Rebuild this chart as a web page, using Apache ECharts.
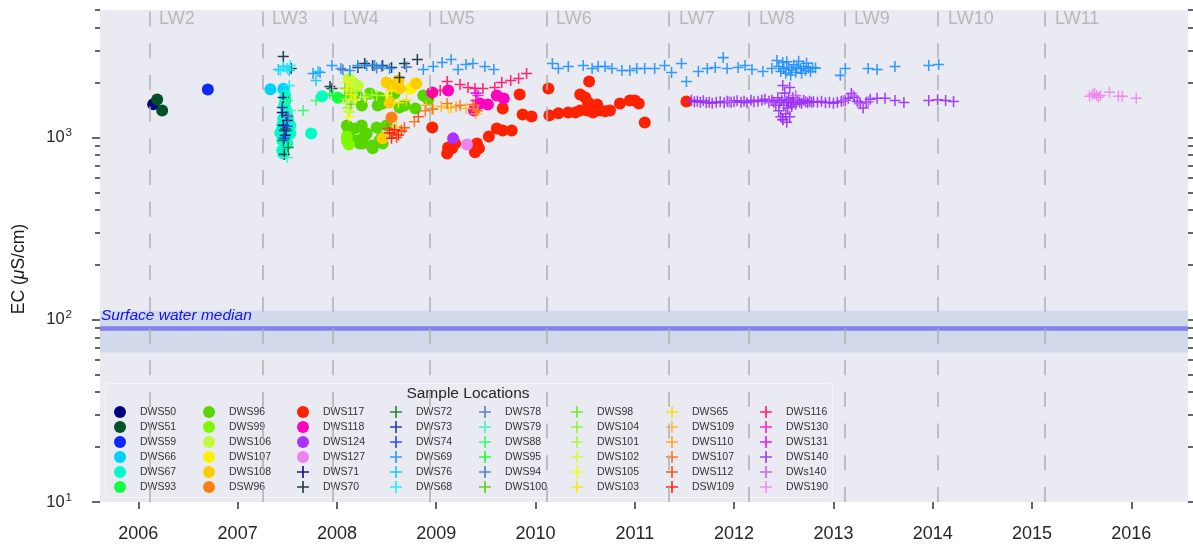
<!DOCTYPE html>
<html>
<head>
<meta charset="utf-8">
<script src="https://cdn.jsdelivr.net/npm/echarts@6/dist/echarts.min.js"></script>
<style>
  html, body { margin: 0; padding: 0; background: #fff; }
  #chart { width: 1193px; height: 544px; }
</style>
</head>
<body>
<div id="chart"></div>
<script>
// ---- axis ticks / annotations ----
var yearTicks = [2006, 2007, 2008, 2009, 2010, 2011, 2012, 2013, 2014, 2015, 2016];
var ecMajor = [10, 100, 1000];
var ecMinor = [20, 30, 40, 50, 60, 70, 80, 90, 200, 300, 400, 500, 600, 700, 800, 900, 2000, 3000, 4000, 5000];
var lwNames = ['LW2', 'LW3', 'LW4', 'LW5', 'LW6', 'LW7', 'LW8', 'LW9', 'LW10', 'LW11'];
var lwYears = [2006.108, 2007.246, 2007.961, 2008.928, 2010.106, 2011.344, 2012.150, 2013.107, 2014.053, 2015.131];
var surfaceMedian = 90;
var surfaceBand = [66, 112];

// ---- sample locations ----
var locNames = ['DWS50', 'DWS51', 'DWS59', 'DWS66', 'DWS67', 'DWS93',
  'DWS96', 'DWS99', 'DWS106', 'DWS107', 'DWS108', 'DSW96',
  'DWS117', 'DWS118', 'DWS124', 'DWS127', 'DWS71', 'DWS70',
  'DWS72', 'DWS73', 'DWS74', 'DWS69', 'DWS76', 'DWS68',
  'DWS78', 'DWS79', 'DWS88', 'DWS95', 'DWS94', 'DWS100',
  'DWS98', 'DWS104', 'DWS101', 'DWS102', 'DWS105', 'DWS103',
  'DWS65', 'DWS109', 'DWS110', 'DWS107\u200b', 'DWS112', 'DSW109',
  'DWS116', 'DWS130', 'DWS131', 'DWS140', 'DWs140', 'DWS190'];
var locColors = ['#000080', '#005028', '#0a28ff', '#00d0ff', '#00fcc8', '#10ff40',
  '#57d600', '#80f800', '#c2fa3a', '#fff000', '#ffcc00', '#ff8010',
  '#ff2200', '#ff00c0', '#aa33ff', '#ee82ee', '#000080', '#0d3040',
  '#1a7a28', '#1a30a0', '#1a3cff', '#1e90ff', '#10c8ff', '#10f0ff',
  '#4a7ac0', '#33f5c0', '#22ff66', '#11ff22', '#4a7ac0', '#55cc00',
  '#66ee11', '#8cf820', '#a8f830', '#d0ff30', '#f0ff00', '#ffe800',
  '#ffd800', '#ffb820', '#ffa010', '#ff7010', '#ff4810', '#ff1a00',
  '#ff1066', '#ff10c8', '#e010f0', '#9a30f8', '#c060f0', '#ee88ee'];
var circleCount = 16; // first 16 are dots, the rest crosses

// [decimal year, EC uS/cm]
var dws50 = [[2006.15, 1520]];
var dws51 = [[2006.19, 1615], [2006.24, 1405]];
var dws59 = [[2006.70, 1830]];
var dws66 = [[2007.33, 1840], [2007.46, 1850]];
var dws67 = [[2007.48, 1596], [2007.49, 1406], [2007.46, 1270], [2007.50, 1321], [2007.45, 1164],
  [2007.53, 1164], [2007.43, 1060], [2007.53, 1052], [2007.45, 963], [2007.50, 927], [2007.45, 849],
  [2007.46, 817], [2007.48, 1700], [2007.47, 1500], [2007.51, 1230], [2007.47, 1100], [2007.49, 990],
  [2007.74, 1050], [2007.85, 1680]];
var dws93 = [[2008.01, 1650]];
var dws96 = [[2008.25, 1496], [2008.33, 1742], [2008.41, 1496], [2008.43, 1656], [2008.46, 1535],
  [2008.58, 1742], [2008.63, 1459], [2008.68, 1496], [2008.79, 1442], [2008.87, 1698], [2008.18, 1766],
  [2008.10, 1164], [2008.11, 1135], [2008.13, 988], [2008.21, 963], [2008.23, 927], [2008.25, 1164],
  [2008.26, 927], [2008.28, 1026], [2008.30, 1052], [2008.35, 903], [2008.36, 871], [2008.40, 1135],
  [2008.43, 963], [2008.45, 1000], [2008.46, 927], [2008.50, 1164], [2008.18, 1119], [2008.92, 1620]];
var dws99 = [[2008.10, 963], [2008.12, 915], [2008.10, 1012]];
var dws106 = [[2008.16, 2000], [2008.12, 2105], [2008.15, 1698], [2008.21, 1927]];
var dws107 = [[2008.79, 1975], [2008.74, 1850]];
var dws108 = [[2008.50, 2000], [2008.62, 2050], [2008.53, 1556], [2008.63, 1854], [2008.80, 1975],
  [2008.46, 988], [2008.56, 1900]];
var dsw96 = [[2008.55, 1288]];
var dws117 = [[2008.96, 1135], [2009.11, 817], [2009.12, 881], [2009.16, 871], [2009.19, 927],
  [2009.39, 828], [2009.41, 927], [2009.43, 871], [2009.53, 1012], [2009.61, 1119], [2009.67, 1091],
  [2009.76, 1091], [2009.67, 1442], [2009.84, 1722], [2009.87, 1337], [2009.96, 1303], [2010.13, 1854],
  [2010.14, 1321], [2010.23, 1355], [2010.33, 1371], [2010.45, 1722], [2010.50, 1656], [2010.53, 1556],
  [2010.45, 1406], [2010.52, 1406], [2010.58, 1371], [2010.65, 1406], [2010.75, 1406], [2010.54, 2027],
  [2010.60, 1442], [2010.85, 1535], [2010.95, 1596], [2011.00, 1596], [2011.04, 1535], [2011.10, 1208],
  [2011.52, 1574], [2010.40, 1371], [2010.62, 1517], [2010.70, 1390], [2010.56, 1420]];
var dws118 = [[2008.96, 1766], [2009.12, 1811], [2009.38, 1406], [2009.44, 1535], [2009.52, 1517],
  [2009.61, 1698], [2009.68, 1637]];
var dws124 = [[2009.17, 988]];
var dws127 = [[2009.31, 915]];
var dws71 = [[2007.46, 1656], [2007.45, 1371], [2007.46, 1164], [2007.48, 1026], [2007.50, 1239]];
var dws70 = [[2007.46, 2780], [2007.54, 2390], [2007.47, 807], [2007.49, 1091], [2007.93, 1901],
  [2007.95, 1854], [2008.21, 2420], [2008.28, 2541], [2008.36, 2480], [2008.46, 2480], [2008.55, 2420],
  [2008.68, 2541], [2008.81, 2675], [2008.63, 2133]];
var dws72 = [[2007.46, 963], [2007.51, 881], [2007.48, 1119]];
var dws73 = [[2007.47, 1091], [2007.49, 1321], [2007.45, 1459]];
var dws74 = [[2007.47, 988], [2007.50, 1150]];
var dws69 = [[2007.76, 2240], [2007.83, 2270], [2007.95, 2480], [2008.04, 2390], [2008.13, 2330],
  [2008.21, 2480], [2008.30, 2480], [2008.38, 2480], [2008.45, 2450], [2008.53, 2390], [2008.87, 2360],
  [2008.97, 2450], [2009.06, 2576], [2009.15, 2675], [2009.22, 2360], [2009.30, 2510], [2009.37, 2541],
  [2009.49, 2450], [2009.58, 2360], [2010.17, 2541], [2010.23, 2390], [2010.33, 2450], [2010.48, 2480],
  [2010.57, 2390], [2010.63, 2450], [2010.70, 2450], [2010.77, 2390], [2010.87, 2330], [2010.95, 2330],
  [2011.02, 2390], [2011.10, 2390], [2011.20, 2390], [2011.30, 2480], [2011.37, 2270], [2011.47, 2541],
  [2011.52, 2027], [2011.64, 2300], [2011.73, 2390], [2011.81, 2420], [2011.89, 2740], [2011.93, 2390],
  [2012.04, 2420], [2012.11, 2480], [2012.18, 2360], [2012.29, 2300], [2012.38, 2390], [2012.43, 2642],
  [2012.49, 2576], [2012.45, 2450], [2012.47, 2300], [2012.50, 2380], [2012.52, 2250], [2012.53, 2600],
  [2012.55, 2420], [2012.57, 2200], [2012.58, 2350], [2012.60, 2500], [2012.62, 2280], [2012.63, 2420],
  [2012.65, 2620], [2012.67, 2380], [2012.68, 2250], [2012.70, 2450], [2012.72, 2330], [2012.73, 2550],
  [2012.75, 2400], [2012.77, 2300], [2012.79, 2420], [2012.82, 2400], [2013.07, 2190], [2013.12, 2390],
  [2013.35, 2390], [2013.44, 2360], [2013.62, 2450], [2013.96, 2480], [2014.06, 2510]];
var dws76 = [[2007.41, 2360], [2007.46, 2450], [2007.52, 2330], [2007.79, 2050], [2007.81, 2300]];
var dws68 = [[2007.43, 2330], [2007.50, 2390], [2007.52, 1927], [2007.53, 2480]];
var dws78 = [[2008.06, 2350], [2008.40, 2400], [2008.70, 2430]];
var dws79 = [[2007.50, 776], [2007.53, 1406]];
var dws88 = [[2007.66, 1406], [2007.79, 1596], [2007.93, 1742], [2007.50, 1600]];
var dws95 = [[2007.96, 1700], [2008.08, 1656]];
var dws94 = [[2007.51, 1300]];
var dws100 = [[2008.10, 1700], [2008.25, 1650], [2008.45, 1600], [2008.14, 1520]];
var dws98 = [[2008.13, 1750], [2008.30, 1690], [2008.08, 1860]];
var dws104 = [[2008.16, 1620], [2008.35, 1720], [2008.11, 1450]];
var dws101 = [[2008.09, 1550], [2008.20, 1800], [2008.40, 1700], [2008.13, 1380]];
var dws102 = [[2008.11, 1400], [2008.15, 1900], [2008.28, 1660], [2008.09, 1620]];
var dws105 = [[2008.12, 1300], [2008.18, 1600], [2008.50, 1700], [2008.10, 1830]];
var dws103 = [[2008.10, 2000], [2008.55, 1800], [2008.62, 1550], [2008.14, 1720]];
var dws65 = [[2008.60, 1150], [2008.70, 1600], [2009.12, 1450]];
var dws109 = [[2008.90, 1500], [2009.05, 1480], [2009.15, 1460], [2009.40, 1350], [2009.42, 1400], [2009.30, 1440]];
var dws110 = [[2008.65, 1100], [2008.97, 1430], [2009.20, 1470], [2009.38, 1500]];
var dws107p = [[2008.89, 1400], [2008.96, 1430], [2009.11, 1535], [2009.24, 1500], [2009.37, 1517],
  [2009.41, 1400], [2008.78, 1220]];
var dws112 = [[2008.51, 1119], [2008.56, 1050], [2008.60, 1000], [2008.65, 1080], [2008.68, 1130], [2008.82, 1300]];
var dsw109 = [[2008.53, 1060], [2008.58, 1100], [2008.62, 1030], [2008.55, 990]];
var dws116 = [[2009.11, 2027], [2009.24, 1950], [2009.32, 1878], [2009.39, 1854], [2009.47, 1854],
  [2009.59, 1878], [2009.66, 2000], [2009.75, 2050], [2009.83, 2105], [2009.91, 2240], [2009.04, 1811],
  [2008.96, 1722]];
var dws130 = [[2009.42, 1698], [2009.40, 1596]];
var dws131 = [[2009.40, 1750]];
var dws140 = [[2011.57, 1600], [2011.60, 1570], [2011.63, 1580], [2011.66, 1560], [2011.69, 1590],
  [2011.72, 1550], [2011.75, 1560], [2011.78, 1540], [2011.82, 1560], [2011.86, 1570], [2011.90, 1550],
  [2011.93, 1580], [2011.97, 1560], [2012.00, 1570], [2012.03, 1590], [2012.07, 1560], [2012.10, 1580],
  [2012.13, 1550], [2012.17, 1600], [2012.20, 1570], [2012.24, 1580], [2012.28, 1600], [2012.31, 1620],
  [2012.35, 1580], [2012.38, 1600], [2012.40, 1560], [2012.42, 1500], [2012.44, 1650], [2012.45, 1400],
  [2012.46, 1550], [2012.47, 1300], [2012.48, 1600], [2012.49, 1250], [2012.50, 1500], [2012.51, 1750],
  [2012.52, 1350], [2012.53, 1580], [2012.54, 1450], [2012.55, 1620], [2012.56, 1300], [2012.57, 1550],
  [2012.58, 1480], [2012.59, 1650], [2012.60, 1560], [2012.62, 1520], [2012.64, 1600], [2012.66, 1560],
  [2012.68, 1540], [2012.70, 1600], [2012.72, 1570], [2012.74, 1550], [2012.76, 1580], [2012.78, 1560],
  [2012.49, 1927], [2012.56, 1880], [2012.49, 1254], [2012.53, 1210], [2012.80, 1570], [2012.84, 1560],
  [2012.88, 1580], [2012.92, 1550], [2012.96, 1560], [2013.00, 1540], [2013.04, 1560], [2013.08, 1580],
  [2013.12, 1600], [2013.15, 1640], [2013.18, 1742], [2013.21, 1660], [2013.24, 1580], [2013.27, 1540],
  [2013.30, 1450], [2013.33, 1560], [2013.37, 1620], [2013.44, 1640], [2013.52, 1640], [2013.62, 1596],
  [2013.71, 1556], [2013.96, 1596], [2014.05, 1610], [2014.13, 1596], [2014.21, 1574]];
var dws140b = [[2013.10, 1590], [2013.20, 1700], [2013.26, 1530], [2013.35, 1570], [2012.62, 1700],
  [2012.35, 1550], [2011.95, 1570]];
var dws190 = [[2015.58, 1680], [2015.61, 1720], [2015.63, 1740], [2015.65, 1700], [2015.67, 1660],
  [2015.69, 1700], [2015.78, 1770], [2015.87, 1680], [2015.91, 1680], [2016.05, 1640]];

var locData = [dws50, dws51, dws59, dws66, dws67, dws93, dws96, dws99, dws106, dws107, dws108, dsw96,
  dws117, dws118, dws124, dws127, dws71, dws70, dws72, dws73, dws74, dws69, dws76, dws68,
  dws78, dws79, dws88, dws95, dws94, dws100, dws98, dws104, dws101, dws102, dws105, dws103,
  dws65, dws109, dws110, dws107p, dws112, dsw109, dws116, dws130, dws131, dws140, dws140b, dws190];

var PLUS = 'path://M8.6,0H11.4V8.6H20V11.4H11.4V20H8.6V11.4H0V8.6H8.6Z';

var chart = echarts.init(document.getElementById('chart'));

var series = [];
// surface water median line + band
series.push({
  type: 'scatter', data: [], silent: true,
  markArea: {
    silent: true,
    itemStyle: { color: 'rgba(160,180,220,0.32)' },
    data: [[{ yAxis: surfaceBand[0] }, { yAxis: surfaceBand[1] }]]
  },
  markLine: {
    silent: true, symbol: 'none',
    lineStyle: { color: '#8080f0', width: 4.5, type: 'solid' },
    label: {
      show: true, position: 'insideStartTop', distance: [1, 4],
      formatter: 'Surface water median',
      color: '#1010ff', fontStyle: 'italic', fontSize: 15.5, fontFamily: 'Liberation Sans'
    },
    data: [{ yAxis: surfaceMedian }]
  }
});
// longwall dashed lines with labels
series.push({
  type: 'scatter', silent: true, symbolSize: 0,
  data: lwYears.map(function (y, i) { return { value: [y, 4480], name: lwNames[i] }; }),
  label: {
    show: true, position: 'right', distance: 10,
    formatter: function (p) { return p.name; },
    color: '#ababab', fontSize: 18, fontFamily: 'Liberation Sans'
  },
  markLine: {
    silent: true, symbol: 'none', label: { show: false },
    lineStyle: { color: '#b0b0b0', width: 1.5, type: [15, 16.7] },
    data: lwYears.map(function (y) { return { xAxis: y }; })
  }
});
locNames.forEach(function (name, i) {
  var dot = i < circleCount;
  series.push({
    name: name, type: 'scatter',
    symbol: dot ? 'circle' : PLUS,
    symbolSize: dot ? 12 : 11,
    itemStyle: { color: locColors[i], opacity: dot ? 1 : 0.9 },
    data: locData[i]
  });
});

var legendLefts = [114, 203, 297, 390, 479, 571, 666, 760];
var legends = legendLefts.map(function (left, c) {
  return {
    orient: 'vertical', left: left, top: 406, padding: 0,
    itemWidth: 12, itemHeight: 12, itemGap: 3, selectedMode: false,
    textStyle: { fontSize: 10.5, color: '#333', fontFamily: 'Liberation Sans', padding: [0, 0, 0, 9] },
    data: locNames.slice(c * 6, c * 6 + 6).map(function (n) {
      var idx = locNames.indexOf(n);
      return { name: n, icon: idx < circleCount ? 'circle' : PLUS };
    })
  };
});

var tickStyle = { color: '#333', width: 1.5 };
function logAxis(pos, values, len, labels) {
  return {
    type: 'log', logBase: 10, min: 10, max: 5000, position: pos,
    axisLine: { show: false }, splitLine: { show: false },
    axisTick: { show: true, customValues: values, length: len, lineStyle: tickStyle },
    axisLabel: labels ? {
      show: true, customValues: values, margin: 28,
      fontSize: 16.5, color: '#262626', fontFamily: 'Liberation Sans',
      formatter: function (v) { return '10{s|' + Math.round(Math.log10(v)) + '}'; },
      rich: { s: { fontSize: 11.5, color: '#262626', fontFamily: 'Liberation Sans', padding: [0, 0, 9, 1] } }
    } : { show: false }
  };
}
var yMain = logAxis('left', ecMajor, 8, true);
yMain.name = 'EC ({i|\u03bc}S/cm)';
yMain.nameLocation = 'middle';
yMain.nameGap = 72;
yMain.nameTextStyle = { fontSize: 17.5, color: '#1a1a1a', fontFamily: 'Liberation Sans', padding: [0, 26, 0, 0],
  rich: { i: { fontStyle: 'italic', fontSize: 17.5, color: '#1a1a1a', fontFamily: 'Liberation Sans' } } };

var option = {
  animation: false,
  backgroundColor: '#ffffff',
  grid: { left: 100, right: 5, top: 10, bottom: 42, show: true, backgroundColor: '#eaeaf2', borderWidth: 0 },
  xAxis: {
    type: 'value', min: 2005.614, max: 2016.571,
    axisLine: { show: false }, splitLine: { show: false },
    axisTick: { show: true, customValues: yearTicks, length: 7, lineStyle: tickStyle },
    axisLabel: {
      customValues: yearTicks, margin: 23, fontSize: 18, color: '#262626', fontFamily: 'Liberation Sans',
      formatter: function (v) { return String(Math.round(v)); }
    }
  },
  yAxis: [yMain, logAxis('left', ecMinor, 5, false), logAxis('right', ecMajor, 6, false), logAxis('right', ecMinor, 5, false)],
  legend: legends,
  graphic: [
    { type: 'rect', z: 3, shape: { x: 105.5, y: 383.5, width: 727, height: 114, r: 3 },
      style: { fill: 'rgba(234,234,242,0.75)', stroke: '#f6f6f9', lineWidth: 1 } },
    { type: 'text', z: 4, x: 468, y: 394,
      style: { text: 'Sample Locations', fontSize: 15.5, fill: '#262626', fontFamily: 'Liberation Sans',
        align: 'center', verticalAlign: 'middle' } }
  ],
  series: series
};
chart.setOption(option);
</script>
</body>
</html>
